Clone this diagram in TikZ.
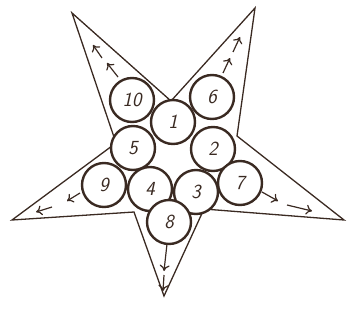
\documentclass[tikz,border=0pt]{standalone}
\usetikzlibrary{arrows.meta}
\definecolor{ink}{HTML}{3A2A22}
\begin{document}
\begin{tikzpicture}[x=1pt,y=-1pt,
  outline/.style={draw=ink,line width=1.3pt,line join=miter},
  ball/.style={circle,draw=ink,fill=white,line width=2.4pt,minimum size=44pt,inner sep=0pt,font=\sffamily\itshape\fontsize{20}{20}\selectfont,text=ink},
  flow/.style={draw=ink,line width=1.2pt,-{To[length=6pt,width=10pt,line width=1.2pt]}}]
\useasboundingbox (0,0) rectangle (347,329);
% star
\coordinate (tl) at (72,13);
\coordinate (it) at (171,101);
\coordinate (tr) at (255,8);
\coordinate (ir) at (237,136);
\coordinate (rt) at (344,220);
\coordinate (ibr) at (204,209);
\coordinate (bt) at (164,296);
\coordinate (ibl) at (134,212);
\coordinate (lt) at (12,220);
\coordinate (il) at (116,143);
\draw[outline] (tl) -- (it) -- (tr) -- (ir) -- (rt) -- (ibr) -- (bt) -- (ibl) -- (lt) -- (il) -- cycle;
% circles
\node[ball] (n10) at (132,100) {10};
\node[ball] (n6) at (212,97) {6};
\node[ball] (n1) at (173,122) {1};
\node[ball] (n5) at (133,148) {5};
\node[ball] (n2) at (213,149) {2};
\node[ball] (n9) at (104,185) {9};
\node[ball] (n4) at (150,189) {4};
\node[ball] (n3) at (196,192) {3};
\node[ball] (n7) at (240,183) {7};
\node[ball] (n8) at (169,222) {8};
% arrows
\coordinate (a1s) at (118,77); \coordinate (a1e) at (107,63);
\coordinate (a2s) at (102,58); \coordinate (a2e) at (93,45);
\draw[flow] (a1s) -- (a1e);
\draw[flow] (a2s) -- (a2e);
\coordinate (b1s) at (223,73); \coordinate (b1e) at (230,58);
\coordinate (b2s) at (233,52); \coordinate (b2e) at (240,37);
\draw[flow] (b1s) -- (b1e);
\draw[flow] (b2s) -- (b2e);
\coordinate (c1s) at (262,192); \coordinate (c1e) at (278,201);
\coordinate (c2s) at (287,205); \coordinate (c2e) at (312,211);
\draw[flow] (c1s) -- (c1e);
\draw[flow] (c2s) -- (c2e);
\coordinate (d1s) at (167,244); \coordinate (d1e) at (164,271);
\coordinate (d2s) at (164,275); \coordinate (d2e) at (163,291);
\draw[flow] (d1s) -- (d1e);
\draw[flow] (d2s) -- (d2e);
\coordinate (e1s) at (80,193); \coordinate (e1e) at (67,201);
\coordinate (e2s) at (52,207); \coordinate (e2e) at (36,212);
\draw[flow] (e1s) -- (e1e);
\draw[flow] (e2s) -- (e2e);
\end{tikzpicture}
\end{document}
